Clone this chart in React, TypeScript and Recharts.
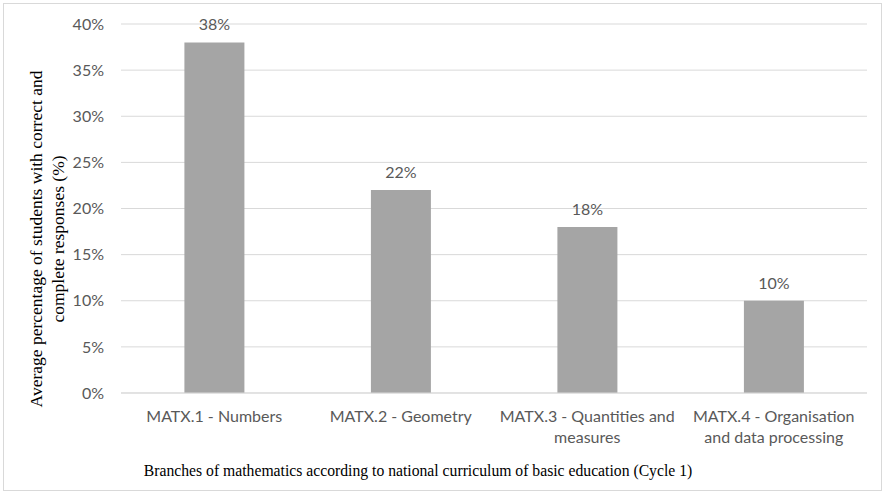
import { BarChart, Bar, XAxis, YAxis, CartesianGrid, LabelList, Label } from 'recharts'

const categories = [
  'MATX.1 - Numbers',
  'MATX.2 - Geometry',
  'MATX.3 - Quantities and measures',
  'MATX.4 - Organisation and data processing',
]
const correctPct = [38, 22, 18, 10]
const yTicks = [0, 5, 10, 15, 20, 25, 30, 35, 40]

const yTitleLines = ['Average percentage of students with correct and', 'complete responses (%)']
const xTitle = 'Branches of mathematics according to national curriculum of basic education (Cycle 1)'

const data = categories.map((name, i) => ({ name, value: correctPct[i] }))

const TICK_FONT = 'Lato, "Open Sans", sans-serif'
const TITLE_FONT = '"Liberation Serif", "DejaVu Serif", serif'
const GREY = '#595959'

// greedy word wrap for the category labels
function wrap(text: string, max: number) {
  const lines: string[] = []
  let cur = ''
  for (const w of text.split(' ')) {
    const next = cur ? cur + ' ' + w : w
    if (next.length > max && cur) { lines.push(cur); cur = w } else cur = next
  }
  if (cur) lines.push(cur)
  return lines
}

function CategoryTick({ x, y, payload }: any) {
  const lines = wrap(payload.value, 23)
  return (
    <text x={x} y={y} textAnchor="middle" fill={GREY} fontSize={16} fontFamily={TICK_FONT}>
      {lines.map((l, i) => (
        <tspan key={i} x={x} dy={i === 0 ? 29 : 21}>{l}</tspan>
      ))}
    </text>
  )
}

function YTitle() {
  const cy = 239
  const xs = [36, 58]
  return (
    <g>
      {yTitleLines.map((l, i) => (
        <text key={i} x={xs[i]} y={cy} transform={`rotate(-90 ${xs[i]} ${cy})`}
          textAnchor="middle" dominantBaseline="central" fill="#000" fontSize={17.5} fontFamily={TITLE_FONT}>
          {l}
        </text>
      ))}
    </g>
  )
}

function XTitle() {
  return (
    <text x={418} y={476} textAnchor="middle" fill="#000" fontSize={15.7} fontFamily={TITLE_FONT}>
      {xTitle}
    </text>
  )
}

export default function App() {
  return (
    <div style={{ position: 'relative', width: 886, height: 496, background: '#fff' }}>
      <style>{'body{margin:0}'}</style>
      <div style={{ position: 'absolute', left: 3, top: 3, width: 879, height: 488, border: '1px solid #d9d9d9', boxSizing: 'border-box' }} />
      <BarChart width={886} height={496} data={data} barCategoryGap="34%"
        margin={{ top: 24, right: 19, left: 0, bottom: 0 }}>
        <CartesianGrid vertical={false} stroke="#d9d9d9" />
        <XAxis dataKey="name" height={103} tickLine={false} axisLine={{ stroke: '#d9d9d9' }}
          tick={<CategoryTick />} interval={0} tickSize={0} tickMargin={0}>
          <Label content={<XTitle />} />
        </XAxis>
        <YAxis width={121} domain={[0, 40]} ticks={yTicks} interval={0} tickLine={false} axisLine={false}
          tickSize={0} tickMargin={17} tickFormatter={(v: number) => `${v}%`}
          tick={{ fill: GREY, fontSize: 16, fontFamily: TICK_FONT }}>
          <Label content={<YTitle />} />
        </YAxis>
        <Bar dataKey="value" fill="#a5a5a5" isAnimationActive={false}>
          <LabelList dataKey="value" position="top" offset={12} formatter={(v: any) => `${v}%`}
            style={{ fill: GREY, fontSize: 16, fontFamily: TICK_FONT }} />
        </Bar>
      </BarChart>
    </div>
  )
}
